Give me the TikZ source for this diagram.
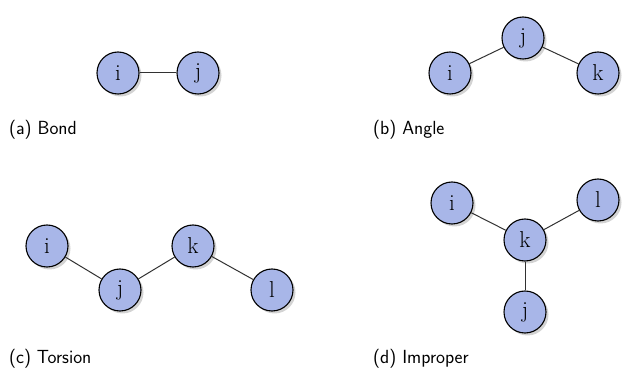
\documentclass[tikz,border=0pt]{standalone}
\usetikzlibrary{shadows}
\definecolor{atomfill}{RGB}{168,182,232}
\definecolor{bondcol}{RGB}{50,50,50}
\tikzset{
  atom/.style={circle, draw=black, line width=1.1pt, fill=atomfill, minimum size=42pt, inner sep=0pt,
    font=\fontsize{23}{23}\selectfont,
    drop shadow={opacity=0.35, shadow xshift=2.5pt, shadow yshift=-2.5pt}},
  bond/.style={draw=bondcol, line width=1pt},
  captext/.style={anchor=west, inner sep=0pt, font=\sffamily\fontsize{19}{19}\selectfont}
}
\begin{document}
\begin{tikzpicture}[x=1pt,y=-1pt]
\useasboundingbox (0,0) rectangle (622,374);
% (a) Bond
\node[atom] (ai) at (118,73) {i};
\node[atom] (aj) at (198,73) {j};
\draw[bond] (ai) -- (aj);
\node[captext] (ca) at (9,130) {(a) Bond};
% (b) Angle
\node[atom] (bi) at (450,73) {i};
\node[atom] (bj) at (523,38) {j};
\node[atom] (bk) at (598,73) {k};
\draw[bond] (bi) -- (bj);
\draw[bond] (bj) -- (bk);
\node[captext] (cb) at (373,130) {(b) Angle};
% (c) Torsion
\node[atom] (ci) at (47,246) {i};
\node[atom] (cj) at (120,290) {j};
\node[atom] (ck) at (193,246) {k};
\node[atom] (cl) at (272,290) {l};
\draw[bond] (ci) -- (cj);
\draw[bond] (cj) -- (ck);
\draw[bond] (ck) -- (cl);
\node[captext] (cc) at (9,359) {(c) Torsion};
% (d) Improper
\node[atom] (di) at (452,203) {i};
\node[atom] (dl) at (598,200) {l};
\node[atom] (dk) at (525,240) {k};
\node[atom] (dj) at (525,312) {j};
\draw[bond] (di) -- (dk);
\draw[bond] (dl) -- (dk);
\draw[bond] (dk) -- (dj);
\node[captext] (cd) at (373,359) {(d) Improper};
\end{tikzpicture}
\end{document}
